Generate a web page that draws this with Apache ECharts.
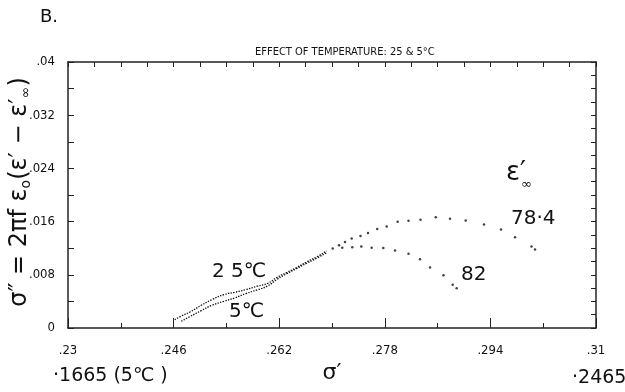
<!DOCTYPE html>
<html>
<head>
<meta charset="utf-8">
<script src="https://cdn.jsdelivr.net/npm/echarts@6/dist/echarts.min.js"></script>
<style>
  html, body { margin: 0; padding: 0; background: #fff; }
  #chart { width: 625px; height: 392px; }
</style>
</head>
<body>
<div id="chart"></div>
<script>
// Axis ranges (sigma' on x, sigma'' on y)
const xMin = 0.23, xMax = 0.31;
const yMin = 0, yMax = 0.04;

// 25 °C run: closely spaced low-frequency points, then the sparse high-frequency points (ε'∞ = 78.4)
const dense25 = [
  [0.24617, 0.00126], [0.24712, 0.00176], [0.24848, 0.00241], [0.25020, 0.00342],
  [0.25182, 0.00427], [0.25364, 0.00503], [0.25526, 0.00537], [0.25697, 0.00578],
  [0.25864, 0.00628], [0.26030, 0.00673], [0.26162, 0.00759], [0.26314, 0.00834],
  [0.26465, 0.00909], [0.26617, 0.00994], [0.26768, 0.01069], [0.26920, 0.01159]
];
const sparse25 = [
  [0.27011, 0.01195], [0.27106, 0.01245], [0.27197, 0.01295], [0.27298, 0.01346],
  [0.27432, 0.01384], [0.27545, 0.01429], [0.27686, 0.01489], [0.27829, 0.01527],
  [0.27995, 0.01596], [0.28159, 0.01611], [0.28341, 0.01629], [0.28572, 0.01664],
  [0.28788, 0.01644], [0.29026, 0.01617], [0.29303, 0.01557], [0.29561, 0.01481],
  [0.29773, 0.01366], [0.30023, 0.01225], [0.30076, 0.01180]
];

// 5 °C run (ε'∞ = 82)
const dense5 = [
  [0.24717, 0.00101], [0.24848, 0.00172], [0.25020, 0.00262], [0.25182, 0.00342],
  [0.25364, 0.00402], [0.25526, 0.00452], [0.25697, 0.00518], [0.25864, 0.00572],
  [0.26030, 0.00635], [0.26162, 0.00729], [0.26314, 0.00816], [0.26465, 0.00894],
  [0.26617, 0.00974], [0.26768, 0.01049], [0.26920, 0.01132]
];
const sparse5 = [
  [0.27156, 0.01207], [0.27307, 0.01215], [0.27444, 0.01225], [0.27601, 0.01207],
  [0.27777, 0.01204], [0.27955, 0.01167], [0.28159, 0.01117], [0.28333, 0.01034],
  [0.28485, 0.00909], [0.28689, 0.00793], [0.28829, 0.00650], [0.28889, 0.00598]
];

// Tick spacing for each side of the frame
const xTickBottom = 0.016, xTickTop = 0.004;
const yTickLeft = 0.008, yTickRight = 0.002;

const narrow = "'Liberation Sans Narrow', 'DejaVu Sans Condensed', sans-serif";
const ink = '#111';

function fmt(v) {
  if (Math.abs(v) < 1e-9) return '0';
  return String(+v.toFixed(3)).replace(/^0/, '');
}

const chart = echarts.init(document.getElementById('chart'), null, { renderer: 'canvas' });

const frameLine = { show: true, onZero: false, lineStyle: { color: '#222', width: 1.5 } };

chart.setOption({
  animation: false,
  backgroundColor: '#fff',
  grid: { left: 68, right: 29, top: 62, bottom: 64, containLabel: false, outerBoundsMode: 'none' },
  xAxis: [
    {
      type: 'value', position: 'bottom', min: xMin, max: xMax, interval: xTickBottom,
      axisLine: frameLine,
      axisTick: { show: true, inside: true, length: 10, lineStyle: { color: '#222', width: 1 } },
      minorTick: { show: true, splitNumber: 2, length: 5, lineStyle: { color: '#222', width: 1 } },
      splitLine: { show: false },
      axisLabel: { formatter: fmt, color: ink, fontFamily: narrow, fontSize: 13, margin: 16 },
      name: 'σ′', nameLocation: 'middle', nameGap: 32,
      nameTextStyle: { color: ink, fontSize: 22, fontFamily: 'DejaVu Sans' }
    },
    {
      type: 'value', position: 'top', min: xMin, max: xMax, interval: xTickTop,
      axisLine: frameLine,
      axisTick: { show: true, inside: true, length: 5, lineStyle: { color: '#222', width: 1 } },
      splitLine: { show: false },
      axisLabel: { show: false }
    }
  ],
  yAxis: [
    {
      type: 'value', position: 'left', min: yMin, max: yMax, interval: yTickLeft,
      axisLine: frameLine,
      axisTick: { show: true, inside: true, length: 6, lineStyle: { color: '#222', width: 1 } },
      minorTick: { show: true, splitNumber: 2, length: 6, lineStyle: { color: '#222', width: 1 } },
      splitLine: { show: false },
      axisLabel: { formatter: fmt, color: ink, fontFamily: narrow, fontSize: 13, margin: 13 }
    },
    {
      type: 'value', position: 'right', min: yMin, max: yMax, interval: yTickRight,
      axisLine: frameLine,
      axisTick: { show: true, inside: true, length: 5, lineStyle: { color: '#222', width: 1 } },
      splitLine: { show: false },
      axisLabel: { show: false }
    }
  ],
  series: [
    {
      name: '25°C', type: 'line', xAxisIndex: 0, yAxisIndex: 0, data: dense25,
      showSymbol: false, smooth: true, silent: true,
      lineStyle: { color: '#111', width: 1.3, type: [1.4, 1.3] }
    },
    {
      name: '25°C', type: 'scatter', xAxisIndex: 0, yAxisIndex: 0, data: sparse25,
      symbol: 'circle', symbolSize: 2.5, itemStyle: { color: '#111' }, silent: true
    },
    {
      name: '5°C', type: 'line', xAxisIndex: 0, yAxisIndex: 0, data: dense5,
      showSymbol: false, smooth: true, silent: true,
      lineStyle: { color: '#111', width: 1.3, type: [1.4, 1.3] }
    },
    {
      name: '5°C', type: 'scatter', xAxisIndex: 0, yAxisIndex: 0, data: sparse5,
      symbol: 'circle', symbolSize: 2.5, itemStyle: { color: '#111' }, silent: true
    }
  ],
  graphic: [
    { type: 'text', left: 40, top: 8, style: { text: 'B.', fill: ink, font: '18px "DejaVu Sans"' } },
    { type: 'text', left: 255, top: 47, style: { text: 'EFFECT OF TEMPERATURE: 25 & 5°C', fill: ink, font: '11px ' + narrow } },
    // vertical axis title
    {
      type: 'text', x: 20, y: 192, rotation: Math.PI / 2,
      style: {
        text: 'σ″ = 2πf ε{s|o}(ε′ − ε′{s|∞})', fill: ink, font: '24px "DejaVu Sans"',
        align: 'center', verticalAlign: 'middle',
        rich: { s: { fontSize: 14, fill: ink, fontFamily: 'DejaVu Sans', padding: [13, 0, 0, 0] } }
      }
    },
    { type: 'text', left: 212, top: 262, style: { text: '2 5℃', fill: ink, font: '20px "DejaVu Sans"' } },
    { type: 'text', left: 229, top: 302, style: { text: '5℃', fill: ink, font: '20px "DejaVu Sans"' } },
    { type: 'text', left: 506, top: 160, style: { text: 'ε′', fill: ink, font: '26px "DejaVu Sans"' } },
    { type: 'text', left: 521, top: 178, style: { text: '∞', fill: ink, font: '13px "DejaVu Sans"' } },
    { type: 'text', left: 511, top: 209, style: { text: '78·4', fill: ink, font: '20px "DejaVu Sans"' } },
    { type: 'text', left: 461, top: 265, style: { text: '82', fill: ink, font: '20px "DejaVu Sans"' } },
    { type: 'text', left: 53, top: 367, style: { text: '·1665 (5℃ )', fill: ink, font: '19px "DejaVu Sans"' } },
    { type: 'text', left: 572, top: 369, style: { text: '·2465', fill: ink, font: '19px "DejaVu Sans"' } }
  ]
});
</script>
</body>
</html>
